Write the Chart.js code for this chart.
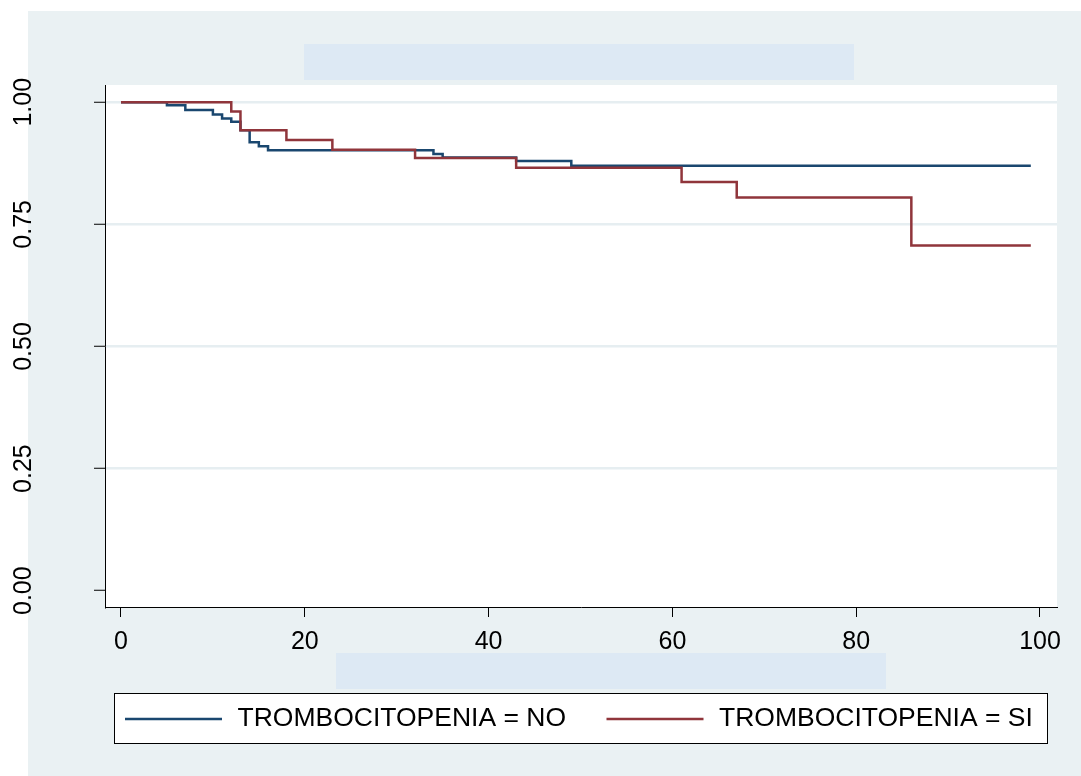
<!DOCTYPE html>
<html><head><meta charset="utf-8">
<script src="https://cdn.jsdelivr.net/npm/chart.js@4.4.1/dist/chart.umd.min.js"></script>
<style>html,body{margin:0;padding:0;background:#fff;overflow:hidden}canvas{display:block}</style>
</head><body>
<canvas id="c" width="1081" height="776"></canvas>
<script>
// ---- data ----
const timeNO = [0, 5, 7, 10, 11, 12, 13, 14, 15, 16, 34, 35, 43, 49, 99];
const survNO = [1, 0.994, 0.984, 0.975, 0.967, 0.960, 0.943, 0.918, 0.910, 0.902, 0.894, 0.887, 0.880, 0.870, 0.870];
const timeSI = [0, 12, 13, 18, 23, 32, 43, 61, 67, 86, 99];
const survSI = [1, 0.981, 0.943, 0.923, 0.903, 0.886, 0.866, 0.837, 0.805, 0.707, 0.707];
const seriesLabels = ['TROMBOCITOPENIA = NO', 'TROMBOCITOPENIA = SI'];
const xTicks = [0, 20, 40, 60, 80, 100];
const yTicks = [0, 0.25, 0.5, 0.75, 1];

const FONT = "'Liberation Sans', Arial, Helvetica, sans-serif";
const BG = '#eaf1f3';
const GRID = '#e6eef1';
const MASK = '#dde9f4';

const backgroundPlugin = {
  id: 'bg',
  beforeDraw(chart) {
    const ctx = chart.ctx, a = chart.chartArea;
    ctx.save();
    ctx.fillStyle = '#ffffff';
    ctx.fillRect(0, 0, chart.width, chart.height);
    ctx.fillStyle = BG;
    ctx.fillRect(28, 11, chart.width - 28, chart.height - 11);
    ctx.fillStyle = '#ffffff';
    ctx.fillRect(a.left, a.top, a.right - a.left, a.bottom - a.top);
    ctx.fillStyle = MASK;
    ctx.fillRect(304, 44, 550, 36);
    ctx.fillRect(336, 653, 550, 36);
    ctx.restore();
  }
};

const legendPlugin = {
  id: 'boxLegend',
  afterDraw(chart) {
    const ctx = chart.ctx;
    const box = {x: 114, y: 693, w: 933, h: 50};
    const itemX = [125, 606.5];
    const lineLen = 97, gap = 15.5;
    const cy = box.y + box.h / 2 + 1;
    ctx.save();
    ctx.fillStyle = '#ffffff';
    ctx.fillRect(box.x, box.y, box.w, box.h);
    ctx.strokeStyle = '#000';
    ctx.lineWidth = 1;
    ctx.strokeRect(box.x + 0.5, box.y + 0.5, box.w, box.h);
    chart.data.datasets.forEach((ds, i) => {
      ctx.strokeStyle = ds.borderColor;
      ctx.lineWidth = ds.borderWidth;
      ctx.beginPath();
      ctx.moveTo(itemX[i], cy);
      ctx.lineTo(itemX[i] + lineLen, cy);
      ctx.stroke();
      ctx.fillStyle = '#000';
      ctx.font = '26.5px ' + FONT;
      ctx.textBaseline = 'middle';
      ctx.textAlign = 'left';
      ctx.fillText(ds.label, itemX[i] + lineLen + gap, cy);
    });
    ctx.restore();
  }
};

const toPts = (xs, ys) => xs.map((t, i) => ({x: t, y: ys[i]}));

new Chart(document.getElementById('c'), {
  type: 'line',
  data: {
    datasets: [
      {label: seriesLabels[0], data: toPts(timeNO, survNO), borderColor: '#1a476f', borderWidth: 2.5,
       stepped: 'before', pointRadius: 0, fill: false, order: 1},
      {label: seriesLabels[1], data: toPts(timeSI, survSI), borderColor: '#90353b', borderWidth: 2.5,
       stepped: 'before', pointRadius: 0, fill: false, order: 0}
    ]
  },
  options: {
    responsive: false,
    animation: false,
    devicePixelRatio: 1,
    layout: {padding: {left: 0, right: 24, top: 85, bottom: 119}},
    plugins: {legend: {display: false}, tooltip: {enabled: false}, title: {display: false}},
    scales: {
      x: {
        type: 'linear', min: -1.74, max: 101.85,
        afterBuildTicks: s => { s.ticks = xTicks.map(v => ({value: v})); },
        afterFit: s => { s.height = 50; },
        grid: {drawOnChartArea: false, drawTicks: true, tickLength: 10, tickColor: '#000', tickWidth: 1, color: '#000'},
        border: {display: true, color: '#000', width: 1},
        ticks: {color: '#000', font: {family: FONT, size: 25}, padding: 10, minRotation: 0, maxRotation: 0, autoSkip: false,
                callback: v => String(v)}
      },
      y: {
        type: 'linear', min: -0.0334, max: 1.0354,
        afterBuildTicks: s => { s.ticks = yTicks.map(v => ({value: v})); },
        afterFit: s => { s.width = 105; },
        grid: {color: c => (c.tick && c.tick.value === 0) ? 'rgba(0,0,0,0)' : GRID, lineWidth: 2.5,
               drawTicks: true, tickLength: 11, tickColor: '#000', tickWidth: 1},
        border: {display: true, color: '#000', width: 1},
        ticks: {color: '#000', font: {family: FONT, size: 25}, minRotation: 90, maxRotation: 90, crossAlign: 'center',
                padding: 46, autoSkip: false, callback: v => Number(v).toFixed(2)}
      }
    }
  },
  plugins: [backgroundPlugin, legendPlugin]
});
</script>
</body></html>
